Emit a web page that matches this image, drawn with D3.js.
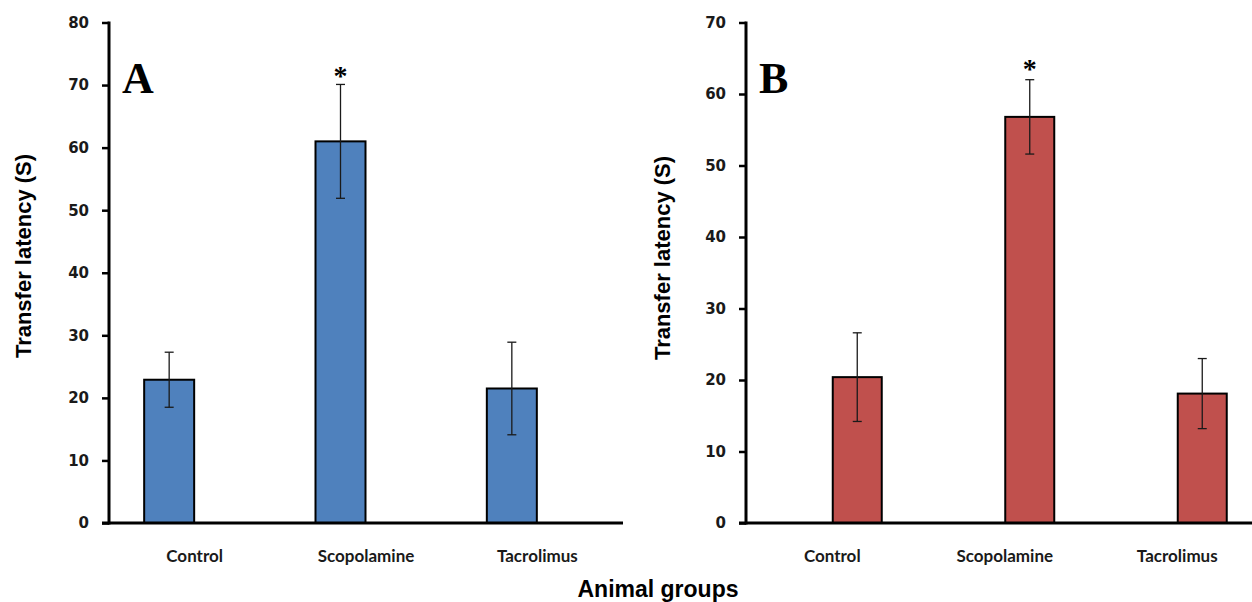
<!DOCTYPE html>
<html>
<head>
<meta charset="utf-8">
<script src="https://cdn.jsdelivr.net/npm/d3@7"></script>
<style>
  body { margin: 0; background: #fff; }
  svg { display: block; }
</style>
</head>
<body>
<svg id="chart" width="1252" height="602"></svg>
<script>
// data
var groups = ["Control", "Scopolamine", "Tacrolimus"];
var meansA = [22.9, 61.0, 21.5];
var errA = [4.4, 9.1, 7.4];
var meansB = [20.4, 56.8, 18.1];
var errB = [6.2, 5.2, 4.9];
var signif = [false, true, false];
var ticksA = [0, 10, 20, 30, 40, 50, 60, 70, 80];
var ticksB = [0, 10, 20, 30, 40, 50, 60, 70];

var svg = d3.select("#chart");
svg.append("rect").attr("width", 1252).attr("height", 602).attr("fill", "#fff");

var plotTop = 22.5, plotBottom = 523;

//one panel of the figure
function draw_panel(p) {
    var y = d3.scaleLinear().domain([0, p.max]).range([plotBottom, plotTop]);
    // category slots (labels sit in the middle), bars are nudged inside the slot
    var x = d3.scaleBand().domain(groups).range([p.left, p.right]);
    var g = svg.append("g");

    var rows = groups.map(function(d, i) {
        return {name: d, mean: p.means[i], err: p.errs[i], sig: signif[i]};
    });
    var cx = d => x(d.name) + x.bandwidth() / 2 + p.shift;

    //bars
    g.selectAll(".bar").data(rows).enter()
        .append("rect")
        .attr("class", "bar")
        .attr("x", d => cx(d) - p.barW / 2)
        .attr("y", d => y(d.mean))
        .attr("width", p.barW)
        .attr("height", d => y(0) - y(d.mean))
        .attr("fill", p.color)
        .attr("stroke", "#000")
        .attr("stroke-width", 2);

    //error bars
    var eb = g.selectAll(".err").data(rows).enter().append("g").attr("class", "err")
        .attr("stroke", "#1a1a1a").attr("stroke-width", 1.3);
    eb.append("line")
        .attr("x1", cx).attr("x2", cx)
        .attr("y1", d => y(d.mean + d.err)).attr("y2", d => y(d.mean - d.err));
    eb.append("line")
        .attr("x1", d => cx(d) - 4.5).attr("x2", d => cx(d) + 4.5)
        .attr("y1", d => y(d.mean + d.err)).attr("y2", d => y(d.mean + d.err));
    eb.append("line")
        .attr("x1", d => cx(d) - 4.5).attr("x2", d => cx(d) + 4.5)
        .attr("y1", d => y(d.mean - d.err)).attr("y2", d => y(d.mean - d.err));

    //significance star
    g.selectAll(".star").data(rows.filter(d => d.sig)).enter()
        .append("text")
        .attr("x", cx)
        .attr("y", d => y(d.mean + d.err) + p.starDy)
        .attr("text-anchor", "middle")
        .attr("font-family", "Liberation Serif, serif")
        .attr("font-weight", "bold")
        .attr("font-size", 28)
        .text("*");

    //y axis
    var ya = g.append("g")
        .attr("transform", "translate(" + p.left + ",0)")
        .call(d3.axisLeft(y).tickValues(p.ticks).tickSize(7).tickPadding(13).tickSizeOuter(0));
    ya.select(".domain").attr("stroke-width", 3).attr("d", "M0," + (plotTop - 1) + "V" + (plotBottom + 1.5));
    ya.selectAll(".tick line").attr("stroke-width", 2.5);
    ya.selectAll(".tick text")
        .attr("font-family", "DejaVu Sans, sans-serif")
        .attr("font-weight", "bold")
        .attr("font-size", 15)
        .attr("fill", "#1a1a1a");

    //x axis: baseline only plus labels
    var xa = g.append("g")
        .attr("transform", "translate(0," + plotBottom + ")")
        .call(d3.axisBottom(x).tickSize(0).tickPadding(27));
    xa.select(".domain").attr("stroke-width", 3).attr("d", "M" + (p.left - 7) + ",0H" + p.lineEnd);
    xa.selectAll(".tick text")
        .attr("font-family", "Lato, sans-serif")
        .attr("font-weight", "bold")
        .attr("font-size", 17)
        .attr("fill", "#1a1a1a");

    //axis title
    g.append("text")
        .attr("transform", "translate(" + p.titleX + "," + p.titleY + ") rotate(-90)")
        .attr("text-anchor", "middle")
        .attr("font-family", "Liberation Sans, Arial, sans-serif")
        .attr("font-weight", "bold")
        .attr("font-size", 22)
        .text("Transfer latency (S)");

    //panel letter
    g.append("text")
        .attr("x", p.left + 13)
        .attr("y", 93)
        .attr("font-family", "Liberation Serif, serif")
        .attr("font-weight", "bold")
        .attr("font-size", 44)
        .text(p.letter);
}

draw_panel({letter: "A", means: meansA, errs: errA, max: 80, ticks: ticksA,
    left: 109, right: 623, lineEnd: 623, shift: -25.5, barW: 50, starDy: 1,
    color: "#4f81bd", titleX: 31, titleY: 256});
draw_panel({letter: "B", means: meansB, errs: errB, max: 70, ticks: ticksB,
    left: 746, right: 1263.5, lineEnd: 1252, shift: 25, barW: 49, starDy: -2,
    color: "#c0504d", titleX: 670, titleY: 258});

svg.append("text")
    .attr("x", 658)
    .attr("y", 597)
    .attr("text-anchor", "middle")
    .attr("font-family", "Liberation Sans, Arial, sans-serif")
    .attr("font-weight", "bold")
    .attr("font-size", 23)
    .text("Animal groups");
</script>
</body>
</html>
